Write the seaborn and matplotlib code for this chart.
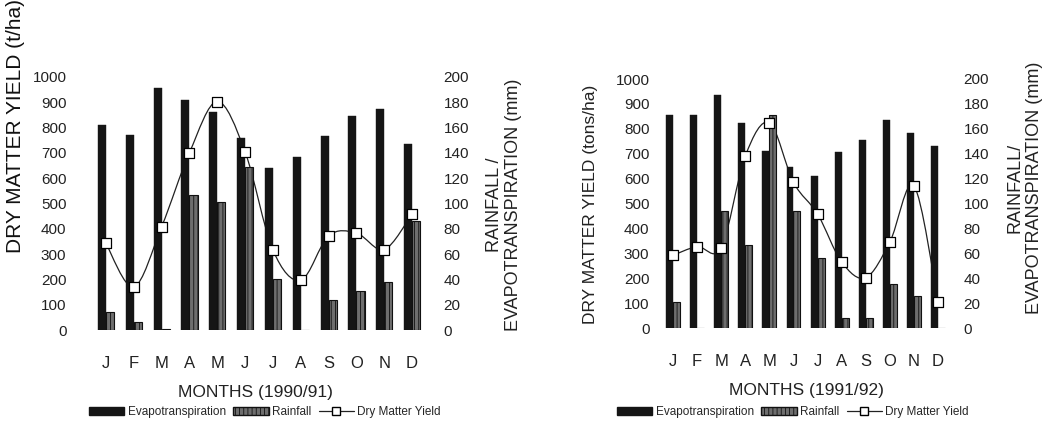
import numpy as np
import pandas as pd
import matplotlib
matplotlib.use("Agg")
import matplotlib.pyplot as plt
from matplotlib.path import Path
from matplotlib.patches import PathPatch, Patch
from matplotlib.lines import Line2D
import seaborn as sns

# data
months = ['Jan', 'Feb', 'Mar', 'Apr', 'May', 'Jun',
          'Jul', 'Aug', 'Sep', 'Oct', 'Nov', 'Dec']
month_letters = ['J', 'F', 'M', 'A', 'M', 'J', 'J', 'A', 'S', 'O', 'N', 'D']

# 1990/91  (mm and t/ha)
et_9091 = [162, 154, 191, 182, 172, 152, 128, 137, 153, 169, 175, 147]
rain_9091 = [14, 6, 1, 107, 101, 129, 40, 0, 24, 31, 38, 86]
dmy_9091 = [342, 170, 408, 701, 903, 704, 316, 197, 372, 383, 318, 459]

# 1991/92
et_9192 = [171, 171, 187, 165, 142, 129, 122, 141, 151, 167, 157, 146]
rain_9192 = [21, 0, 94, 67, 171, 94, 56, 8, 8, 35, 26, 0]
dmy_9192 = [292, 327, 323, 691, 824, 585, 458, 265, 202, 345, 571, 106]

yield_ticks = [0, 100, 200, 300, 400, 500, 600, 700, 800, 900, 1000]
mm_ticks = [0, 20, 40, 60, 80, 100, 120, 140, 160, 180, 200]

ET_COLOR = '#151515'
RAIN_COLOR = '#6e6e6e'

sns.set_style('white')
plt.rcParams['font.family'] = ['Liberation Sans', 'DejaVu Sans']
plt.rcParams['hatch.linewidth'] = 0.6

fig = plt.figure(figsize=(10.58, 4.23), dpi=100)
W, H = 1058.0, 423.0


def smooth_path(xs, ys):
    # excel style smoothed line as bezier segments through the points
    pts = np.column_stack([xs, ys]).astype(float)
    verts = [pts[0]]
    codes = [Path.MOVETO]
    n = len(pts)
    for i in range(n - 1):
        p0 = pts[i - 1] if i > 0 else pts[i]
        p1 = pts[i]
        p2 = pts[i + 1]
        p3 = pts[i + 2] if i + 2 < n else pts[i + 1]
        verts += [p1 + (p2 - p0) / 6.0, p2 - (p3 - p1) / 6.0, p2]
        codes += [Path.CURVE4] * 3
    return Path(verts, codes)


def draw_panel(rect, et, rain, dmy, xlim, xlabel):
    ax = fig.add_axes(rect)
    ax_mm = ax.twinx()
    ax_pts = ax.twinx()

    df = pd.DataFrame({
        'month': months + months,
        'series': ['Evapotranspiration'] * 12 + ['Rainfall'] * 12,
        'mm': et + rain,
    })
    sns.barplot(data=df, x='month', y='mm', hue='series', order=months,
                hue_order=['Evapotranspiration', 'Rainfall'],
                palette=[ET_COLOR, RAIN_COLOR], saturation=1, width=0.58,
                legend=False, ax=ax_mm)
    for bar in ax_mm.containers[0]:
        bar.set_edgecolor(ET_COLOR)
        bar.set_linewidth(0.3)
    for bar in ax_mm.containers[1]:
        bar.set_edgecolor('#111111')
        bar.set_linewidth(0.8)
        bar.set_hatch('||||')

    xs = np.arange(len(months))
    line = PathPatch(smooth_path(xs, dmy), facecolor='none',
                     edgecolor='#222222', linewidth=0.9)
    ax.add_patch(line)

    sns.scatterplot(x=xs, y=dmy, ax=ax_pts, marker='s', s=55,
                    color='white', edgecolor='black', linewidth=0.9,
                    zorder=5)

    ax.set_ylim(0, 1000)
    ax_pts.set_ylim(0, 1000)
    ax_mm.set_ylim(0, 200)
    ax.set_xlim(*xlim)

    ax.set_yticks(yield_ticks)
    ax.set_yticklabels([str(t) for t in yield_ticks])
    ax_mm.set_yticks(mm_ticks)
    ax_mm.set_yticklabels([str(t) for t in mm_ticks])
    ax.set_xticks(xs)
    ax.set_xticklabels(month_letters)

    ax.tick_params(axis='x', length=0, pad=19, labelsize=12, colors='#222222')
    ax.tick_params(axis='y', length=0, pad=4, labelsize=11, colors='#222222')
    ax_mm.tick_params(axis='y', length=0, pad=4, labelsize=11, colors='#222222')
    ax_pts.set_axis_off()

    ax.set_xlabel(xlabel, fontsize=12.5, labelpad=10, color='#222222')
    ax.set_ylabel('')
    ax_mm.set_ylabel('')
    ax_mm.set_xlabel('')
    for a in (ax, ax_mm, ax_pts):
        for s in a.spines.values():
            s.set_visible(False)
        a.grid(False)
    return ax


ax1 = draw_panel([72 / W, 93 / H, 366 / W, 253 / H], et_9091, rain_9091,
                 dmy_9091, (-1.22, 11.93), 'MONTHS (1990/91)')
ax2 = draw_panel([655 / W, 95 / H, 303 / W, 249 / H], et_9192, rain_9192,
                 dmy_9192, (-0.75, 11.83), 'MONTHS (1991/92)')

# axis titles
fig.text(16 / W, 1 - 126 / H, 'DRY MATTER YIELD (t/ha)', rotation=90,
         ha='center', va='center', fontsize=15, color='#111111')
fig.text(504 / W, 1 - 205 / H, 'RAINFALL /\nEVAPOTRANSPIRATION (mm)',
         rotation=90, ha='center', va='center', multialignment='center',
         fontsize=13, linespacing=1.2, color='#222222')
fig.text(590 / W, 1 - 204 / H, 'DRY MATTER YIELD (tons/ha)', rotation=90,
         ha='center', va='center', fontsize=12.5, color='#222222')
fig.text(1025 / W, 1 - 188 / H, 'RAINFALL/\nEVAPOTRANSPIRATION (mm)',
         rotation=90, ha='center', va='center', multialignment='center',
         fontsize=13, linespacing=1.2, color='#222222')

handles = [
    Patch(facecolor=ET_COLOR, edgecolor=ET_COLOR),
    Patch(facecolor=RAIN_COLOR, edgecolor='#111111', hatch='||||'),
    Line2D([], [], color='#222222', linewidth=0.9, marker='s',
           markersize=6, markerfacecolor='white', markeredgecolor='black'),
]
labels = ['Evapotranspiration', 'Rainfall', 'Dry Matter Yield']
for cx in (265, 793):
    fig.legend(handles, labels, loc='center', ncol=3,
               bbox_to_anchor=(cx / W, 1 - 412 / H), frameon=False,
               fontsize=8.5, handlelength=3.0, handleheight=0.6,
               handletextpad=0.3, columnspacing=0.6, borderpad=0)

fig.savefig('out.png', dpi=100)
